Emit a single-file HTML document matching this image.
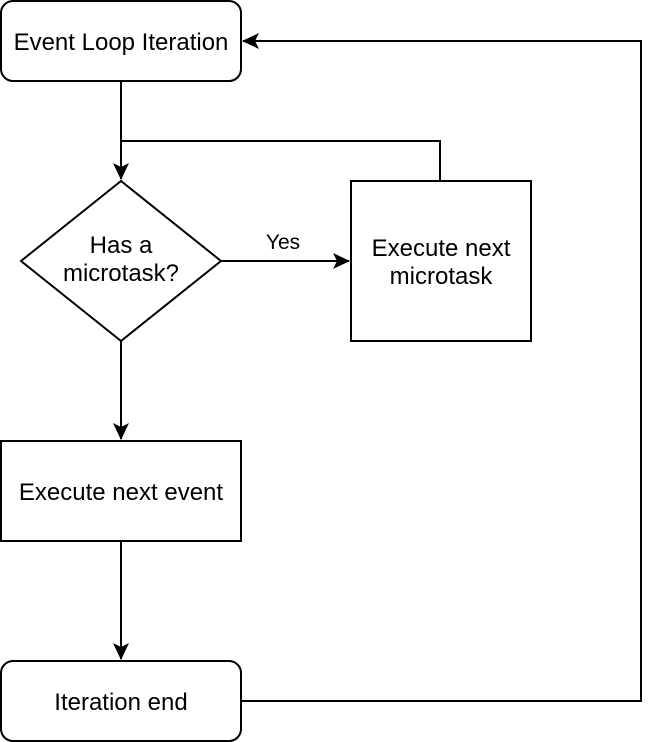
<!DOCTYPE html>
<html><head><meta charset="utf-8"><style>
html,body{margin:0;padding:0;background:#fff;}
svg{display:block;}
text{font-family:"Liberation Sans",Arial,sans-serif;font-size:24px;fill:#000;}
</style></head><body>
<svg width="658" height="742" viewBox="0 0 658 742" xmlns="http://www.w3.org/2000/svg">
<defs>
<marker id="a" markerWidth="20" markerHeight="20" refX="17" refY="10" orient="auto" markerUnits="userSpaceOnUse">
<path d="M1,2 L18,10 L1,18 L5,10 Z" fill="#000"/>
</marker>
</defs>
<g stroke="#000" stroke-width="2" fill="#fff">
<rect x="1" y="1" width="240" height="80" rx="12"/>
<polygon points="121,181 221,261 121,341 21,261"/>
<rect x="351" y="181" width="180" height="160"/>
<rect x="1" y="441" width="240" height="100"/>
<rect x="1" y="661" width="240" height="80" rx="12"/>
</g>
<g stroke="#000" stroke-width="2" fill="none">
<path d="M121,81 V179" marker-end="url(#a)"/>
<path d="M440,181 V141 H121"/>
<path d="M221,261 H349" marker-end="url(#a)"/>
<path d="M121,341 V439" marker-end="url(#a)"/>
<path d="M121,541 V659" marker-end="url(#a)"/>
<path d="M241,701 H641 V41 H243" marker-end="url(#a)"/>
</g>
<g text-anchor="middle">
<text x="121" y="50">Event Loop Iteration</text>
<text x="121" y="253">Has a</text>
<text x="121" y="281">microtask?</text>
<text x="283" y="249" style="font-size:21px">Yes</text>
<text x="441" y="256">Execute next</text>
<text x="441" y="284">microtask</text>
<text x="121" y="500">Execute next event</text>
<text x="121" y="710">Iteration end</text>
</g>
</svg>
</body></html>
